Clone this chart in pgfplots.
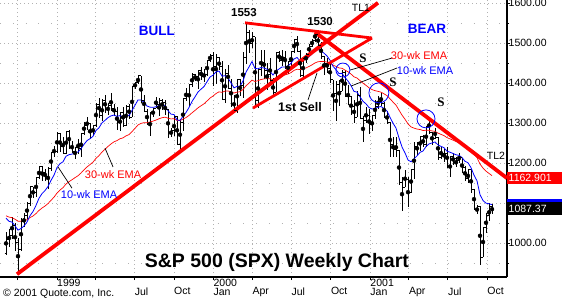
\documentclass[border=0pt]{standalone}
\usepackage{pgfplots}
\pgfplotsset{compat=1.18}
\usepackage{pgfplotstable}
\usepackage{fontspec}
\setmainfont{Liberation Sans}
\newfontfamily\serifbf{Liberation Serif}
\newcommand\ls{\rule[-1.5pt]{0pt}{8pt}}

\pgfdeclareplotmark{otick}{\pgfpathmoveto{\pgfqpoint{-1.5pt}{0pt}}\pgfpathlineto{\pgfqpoint{0pt}{0pt}}\pgfusepathqstroke}
\pgfdeclareplotmark{ctick}{\pgfpathmoveto{\pgfqpoint{0pt}{0pt}}\pgfpathlineto{\pgfqpoint{1.5pt}{0pt}}\pgfusepathqstroke}

\pgfplotstableread{
w o h l c t m
-16 974 1029 971 1009 1063.0 1068.9
-15 1009 1036 991 1020 1055.2 1065.7
-14 1020 1066 1010 1044 1053.2 1064.3
-13 1044 1050 981 1002 1043.9 1060.3
-12 1002 1013 923 984 1033.0 1055.4
-11 984 1064 982 1056 1037.2 1055.4
-10 1056 1075 1040 1071 1043.3 1056.4
-9 1071 1104 1060 1099 1053.4 1059.1
-8 1099 1142 1094 1141 1069.3 1064.4
-7 1141 1142 1113 1126 1079.6 1068.4
-6 1126 1165 1117 1164 1094.9 1074.6
-5 1164 1192 1160 1192 1112.6 1082.2
-4 1192 1193 1156 1177 1124.3 1088.3
-3 1177 1185 1157 1166 1131.9 1093.3
-2 1166 1190 1137 1188 1142.1 1099.4
-1 1188 1229 1180 1226 1157.4 1107.6
0 1226 1244 1217 1229 1170.4 1115.4
1 1229 1278 1227 1275 1189.4 1125.7
2 1275 1276 1228 1243 1199.1 1133.3
3 1243 1266 1225 1225 1203.8 1139.2
4 1225 1280 1223 1280 1217.7 1148.3
5 1280 1284 1237 1239 1221.6 1154.1
6 1239 1255 1226 1230 1223.1 1159.0
7 1230 1240 1212 1239 1226.0 1164.2
8 1239 1262 1224 1238 1228.2 1169.0
9 1238 1276 1217 1275 1236.7 1175.8
10 1275 1303 1270 1295 1247.3 1183.5
11 1295 1316 1282 1299 1256.7 1190.9
12 1299 1300 1260 1283 1261.5 1196.8
13 1283 1294 1271 1294 1267.4 1203.1
14 1294 1351 1290 1348 1282.1 1212.4
15 1348 1363 1313 1319 1288.8 1219.3
16 1319 1360 1305 1357 1301.2 1228.2
17 1357 1370 1325 1335 1307.3 1235.1
18 1335 1351 1321 1345 1314.2 1242.2
19 1345 1375 1330 1338 1318.5 1248.4
20 1338 1347 1318 1330 1320.6 1253.7
21 1330 1340 1283 1302 1317.2 1256.8
22 1302 1328 1280 1328 1319.2 1261.4
23 1328 1340 1290 1294 1314.6 1263.5
24 1294 1345 1292 1343 1319.8 1268.6
25 1343 1347 1311 1315 1318.9 1271.6
26 1315 1392 1315 1391 1332.0 1279.3
27 1391 1404 1386 1403 1344.9 1287.3
28 1403 1419 1397 1419 1358.4 1295.8
29 1419 1419 1350 1357 1358.1 1299.7
30 1357 1370 1327 1329 1352.8 1301.6
31 1329 1335 1296 1300 1343.2 1301.5
32 1300 1328 1268 1328 1340.4 1303.2
33 1328 1338 1315 1337 1339.8 1305.4
34 1337 1366 1337 1348 1341.3 1308.1
35 1348 1362 1317 1357 1344.2 1311.3
36 1357 1360 1334 1352 1345.6 1313.9
37 1352 1357 1320 1335 1343.7 1315.3
38 1335 1336 1264 1277 1331.6 1312.8
39 1277 1287 1266 1283 1322.8 1310.9
40 1283 1317 1269 1318 1321.9 1311.4
41 1318 1318 1247 1247 1308.3 1307.2
42 1247 1310 1233 1302 1307.2 1306.9
43 1302 1363 1280 1363 1317.3 1310.5
44 1363 1387 1355 1370 1326.9 1314.3
45 1370 1397 1343 1396 1339.5 1319.6
46 1396 1425 1390 1422 1354.5 1326.2
47 1422 1424 1405 1417 1365.9 1332.1
48 1417 1434 1386 1433 1378.1 1338.6
49 1433 1440 1407 1417 1385.2 1343.7
50 1417 1436 1403 1421 1391.7 1348.7
51 1421 1458 1418 1458 1403.8 1355.7
52 1458 1473 1453 1469 1415.6 1363.0
53 1469 1478 1392 1441 1420.2 1368.0
54 1441 1473 1398 1465 1428.3 1374.3
55 1465 1465 1433 1441 1430.6 1378.6
56 1441 1455 1360 1360 1417.8 1377.4
57 1360 1435 1350 1424 1418.9 1380.4
58 1424 1445 1387 1387 1413.1 1380.8
59 1387 1410 1340 1346 1400.9 1378.6
60 1346 1370 1325 1333 1388.6 1375.7
61 1333 1410 1325 1409 1392.3 1377.8
62 1409 1410 1367 1395 1392.8 1378.9
63 1395 1479 1364 1464 1405.7 1384.4
64 1464 1553 1448 1527 1427.8 1393.6
65 1527 1534 1475 1499 1440.7 1400.4
66 1499 1527 1488 1516 1454.4 1407.8
67 1516 1516 1339 1357 1436.7 1404.5
68 1357 1435 1339 1435 1436.4 1406.5
69 1435 1483 1418 1452 1439.2 1409.4
70 1452 1482 1411 1433 1438.1 1410.9
71 1433 1450 1384 1421 1435.0 1411.6
72 1421 1464 1400 1407 1429.9 1411.3
73 1407 1412 1367 1378 1420.5 1409.2
74 1378 1478 1378 1477 1430.8 1413.6
75 1477 1480 1453 1457 1435.6 1416.4
76 1457 1482 1443 1464 1440.8 1419.5
77 1464 1480 1436 1441 1440.8 1420.9
78 1441 1456 1422 1455 1443.4 1423.1
79 1455 1480 1440 1479 1449.9 1426.7
80 1479 1511 1475 1510 1460.8 1432.1
81 1510 1518 1478 1480 1464.3 1435.2
82 1480 1484 1416 1420 1456.2 1434.2
83 1420 1463 1413 1463 1457.4 1436.1
84 1463 1475 1450 1472 1460.1 1438.4
85 1472 1499 1471 1492 1465.9 1441.9
86 1492 1511 1490 1506 1473.2 1446.0
87 1506 1530 1504 1521 1481.9 1450.8
88 1521 1521 1492 1495 1484.3 1453.7
89 1495 1502 1460 1466 1481.0 1454.5
90 1466 1468 1421 1449 1475.2 1454.1
91 1449 1464 1425 1437 1468.3 1453.0
92 1437 1455 1400 1409 1457.5 1450.2
93 1409 1409 1330 1374 1442.3 1445.3
94 1374 1406 1306 1397 1434.1 1442.2
95 1397 1408 1342 1380 1424.3 1438.2
96 1380 1433 1380 1427 1424.8 1437.5
97 1427 1433 1365 1366 1414.1 1432.9
98 1366 1395 1346 1368 1405.7 1428.7
99 1368 1368 1320 1342 1394.1 1423.1
100 1342 1357 1300 1315 1379.7 1416.1
101 1315 1380 1315 1370 1377.9 1413.1
102 1370 1390 1312 1312 1365.9 1406.6
103 1312 1318 1254 1306 1355.0 1400.1
104 1306 1340 1300 1320 1348.6 1394.9
105 1320 1335 1274 1298 1339.4 1388.7
106 1298 1320 1280 1319 1335.7 1384.2
107 1319 1357 1310 1343 1337.0 1381.5
108 1343 1367 1335 1355 1340.3 1379.8
109 1355 1376 1344 1349 1341.9 1377.8
110 1349 1354 1312 1315 1337.0 1373.7
111 1315 1331 1298 1302 1330.6 1369.1
112 1302 1302 1215 1246 1315.2 1361.2
113 1246 1266 1215 1234 1300.4 1353.0
114 1234 1265 1215 1233 1288.1 1345.3
115 1233 1234 1145 1151 1263.2 1332.8
116 1151 1165 1081 1140 1240.8 1320.4
117 1140 1183 1140 1160 1226.1 1310.1
118 1160 1165 1091 1128 1208.3 1298.4
119 1128 1183 1126 1184 1203.9 1291.0
120 1184 1253 1160 1243 1211.0 1287.9
121 1243 1254 1221 1253 1218.6 1285.6
122 1253 1267 1232 1267 1227.4 1284.4
123 1267 1270 1240 1246 1230.8 1281.9
124 1246 1292 1241 1292 1241.9 1282.6
125 1292 1316 1273 1278 1248.5 1282.3
126 1278 1279 1246 1261 1250.8 1280.9
127 1261 1287 1260 1265 1253.4 1279.9
128 1265 1267 1208 1214 1246.2 1275.6
129 1214 1240 1211 1225 1242.3 1272.3
130 1225 1237 1203 1224 1239.0 1269.2
131 1224 1240 1188 1191 1230.3 1264.2
132 1191 1219 1165 1216 1227.7 1261.1
133 1216 1225 1195 1211 1224.7 1257.9
134 1211 1215 1190 1206 1221.3 1254.6
135 1206 1226 1200 1214 1220.0 1252.0
136 1214 1214 1175 1190 1214.5 1248.0
137 1190 1194 1156 1162 1205.0 1242.5
138 1162 1185 1152 1185 1201.4 1238.8
139 1185 1185 1125 1134 1189.1 1232.0
140 1134 1136 1085 1086 1170.4 1222.6
141 1086 1096 1073 1093 1156.3 1214.2
142 1093 1093 945 966 1121.7 1198.2
143 966 1041 966 1041 1107.0 1188.1
144 1041 1076 1027 1071 1100.5 1180.5
145 1071 1100 1055 1092 1099.0 1174.8
146 1092 1098 1073 1087.37 1096.8 1169.1
}\spx

\begin{document}
\begin{tikzpicture}
\useasboundingbox (0,0) rectangle (562pt,298pt);
\begin{axis}[
  at={(0pt,21pt)}, anchor=south west,
  scale only axis, width=507pt, height=277pt,
  xmin=-18, xmax=151, ymin=916, ymax=1608,
  axis x line*=bottom, axis y line*=right,
  axis line style={-, black, line width=1.2pt},
  clip=false,
  ytick={1000,1100,1200,1300,1400,1500,1600},
  yticklabels={1000.00,,1200.00,1300.00,1400.00,1500.00,1600.00},
  minor ytick={950,1050,1150,1250,1350,1450,1550},
  xtick={-12.14,1,13.86,26.86,40,53.14,66.14,79.14,92.29,105.43,118.29,131.29,144.43},
  xticklabels={{\ls\\\ls},{\ls 1999\\\ls},{\ls\\\ls},{\ls\\\ls Jul},{\ls\\\ls Oct},{\ls 2000\\\ls Jan},{\ls\\\ls Apr},{\ls\\\ls Jul},{\ls\\\ls Oct},{\ls 2001\\\ls Jan},{\ls\\\ls Apr},{\ls\\\ls Jul},{\ls\\\ls Oct}},
  grid=both,
  major grid style={gray!60, line width=0.8pt, dash pattern=on 0.8pt off 3.2pt},
  minor grid style={gray!60, line width=0.8pt, dash pattern=on 0.8pt off 12pt},
  tick style={black, line width=0.8pt},
  major tick length=3pt, minor tick length=2pt,
  tick align=outside,
  tick label style={font=\fontsize{10.5}{9}\selectfont},
  yticklabel style={anchor=west, inner xsep=0pt, xshift=-1.5pt},
  xticklabel style={anchor=north west, align=left, inner xsep=0pt, inner ysep=0pt, yshift=1pt},
]
% high-low
\addplot[only marks, mark=none, error bars/.cd, y dir=both, y explicit, error mark=none,
  error bar style={black, line width=1pt, solid}]
  table[x=w, y expr={(\thisrow{h}+\thisrow{l})/2}, y error expr={(\thisrow{h}-\thisrow{l})/2}] {\spx};
% open and close ticks
\addplot[only marks, mark=otick, mark options={black, line width=0.9pt}] table[x=w, y=o] {\spx};
\addplot[only marks, mark=ctick, mark options={black, line width=0.9pt}] table[x=w, y=c] {\spx};
% EMAs
\addplot[red, line width=0.7pt] table[x=w, y=m] {\spx};
\addplot[blue, line width=0.8pt] table[x=w, y=t] {\spx};
% trend lines
\addplot[red, line width=3.8pt] coordinates {(-12.33,923) (108,1601)};
\addplot[red, line width=3.8pt] coordinates {(87,1528) (151,1163)};
\addplot[red, line width=2.8pt] coordinates {(63.67,1551) (106,1513)};
\addplot[red, line width=2.8pt] coordinates {(66.3,1338) (106,1513)};
% circles
\addplot[only marks, mark=o, mark size=7pt, mark options={blue, line width=0.8pt}] coordinates {(96.3,1433)};
\addplot[only marks, mark=o, mark size=10pt, mark options={blue, line width=0.8pt}] coordinates {(108.3,1376)};
\addplot[only marks, mark=o, mark size=9pt, mark options={blue, line width=0.8pt}] coordinates {(124,1311)};
% leader lines
\addplot[black, line width=0.7pt] coordinates {(19.67,1191) (17,1238)};
\addplot[black, line width=0.7pt] coordinates {(6,1138) (1.33,1191)};
\addplot[black, line width=0.7pt] coordinates {(98.67,1433) (112.67,1463)};
\addplot[black, line width=0.7pt] coordinates {(99,1393) (114.3,1438)};
\addplot[black, line width=0.7pt] coordinates {(84.67,1358) (87.67,1426)};
% 10-wk EMA value marker (mostly hidden behind the price box)
\addplot[blue, line width=3pt] coordinates {(151,1108) (169.5,1108)};
% labels
\node[text=blue, font=\bfseries\fontsize{13.5}{14}\selectfont] at (axis cs:34.3,1531) {BULL};
\node[text=blue, font=\bfseries\fontsize{13.5}{14}\selectfont] at (axis cs:124.3,1536) {BEAR};
\node[font=\bfseries\fontsize{11.5}{12}\selectfont] at (axis cs:63.3,1576) {1553};
\node[font=\bfseries\fontsize{11.5}{12}\selectfont] at (axis cs:88.7,1553) {1530};
\node[font=\fontsize{10.5}{11}\selectfont] at (axis cs:102.3,1588) {TL1};
\node[font=\fontsize{10.5}{11}\selectfont] at (axis cs:147.3,1218) {TL2};
\node[font=\serifbf\bfseries\fontsize{13}{13}\selectfont] at (axis cs:103,1463) {S};
\node[font=\serifbf\bfseries\fontsize{13}{13}\selectfont] at (axis cs:113,1403) {S};
\node[font=\serifbf\bfseries\fontsize{13}{13}\selectfont] at (axis cs:129,1353) {S};
\node[font=\bfseries\fontsize{12.5}{13}\selectfont] at (axis cs:82,1341) {1st Sell};
\node[text=red, font=\fontsize{11}{12}\selectfont] at (axis cs:19.7,1173) {30-wk EMA};
\node[text=blue, font=\fontsize{11}{12}\selectfont] at (axis cs:11.7,1123) {10-wk EMA};
\node[text=red, font=\fontsize{11}{12}\selectfont] at (axis cs:121.7,1468) {30-wk EMA};
\node[text=blue, font=\fontsize{11}{12}\selectfont] at (axis cs:123.7,1431) {10-wk EMA};
\node[font=\bfseries\fontsize{19.5}{20}\selectfont] at (axis cs:74.3,953) {S\&P 500 (SPX) Weekly Chart};
% value boxes
\node[anchor=west, fill=red, text=white, inner xsep=1.5pt, inner ysep=0pt, minimum height=12pt, text width=52pt, font=\fontsize{10.5}{10}\selectfont] at (axis cs:151,1162.9) {1162.901};
\node[anchor=west, fill=black, text=white, inner xsep=1.5pt, inner ysep=0pt, minimum height=13pt, text width=52pt, font=\fontsize{10.5}{10}\selectfont] at (axis cs:151,1087.37) {1087.37};
\end{axis}
\node[anchor=base west, inner sep=0pt, font=\fontsize{10.5}{10}\selectfont] at (3pt,1.6pt) {© 2001 Quote.com, Inc.};
\end{tikzpicture}
\end{document}
